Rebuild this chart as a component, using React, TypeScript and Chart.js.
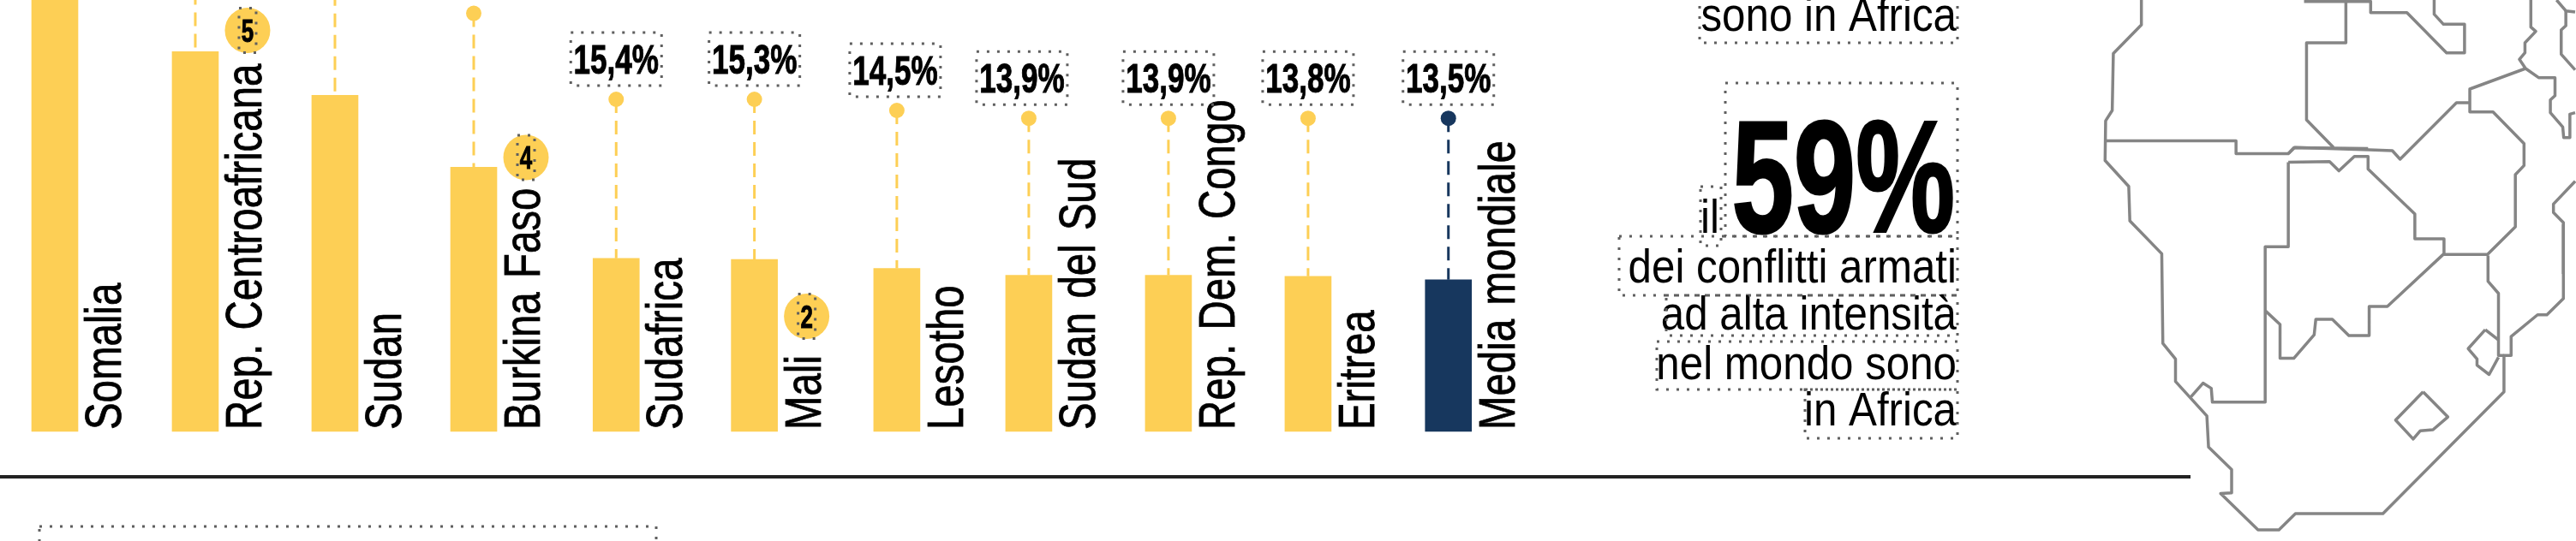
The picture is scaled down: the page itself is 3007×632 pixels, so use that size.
import React, { useEffect, useRef } from "react";
import { Chart, registerables } from "chart.js";

Chart.register(...registerables);

const categories = ["Somalia", "Rep. Centroafricana", "Sudan", "Burkina Faso", "Sudafrica", "Mali", "Lesotho", "Sudan del Sud", "Rep. Dem. Congo", "Eritrea", "Media mondiale"];
const values = [41.5, 33.8, 29.9, 23.5, 15.4, 15.3, 14.5, 13.9, 13.9, 13.8, 13.5];
const valueLabels = ["", "", "", "", "15,4%", "15,3%", "14,5%", "13,9%", "13,9%", "13,8%", "13,5%"];
const stemTops = [44, 43, 41, 37.2, 29.55, 29.55, 28.56, 27.86, 27.86, 27.86, 27.86];
const slots = [0, 1.006, 2.006, 3, 4.02, 5.01, 6.03, 6.975, 7.975, 8.975, 9.98];
const labelNudge = [0, 0, 0, 0, 0, 0, -2, -8, 0, 0, 0];
const ranks: [number, string, number][] = [[1, "5", 35.5], [3, "4", 184], [5, "2", 369.5]];
const YELLOW = "#fdcf55";
const NAVY = "#17375e";
const W = 3007, H = 632, BASE = 504, UNIT = 163, X0 = 64, PX_PER_VALUE = 13.13;

const body: [string, number, number, number, number, number, number][] = [
  ["sono in Africa", 2284, 36, 1984, -40, 2285, 50],
  ["il", 2007, 272, 1985, 218, 2009, 287],
  ["dei conflitti armati", 2284, 330, 1890, 276, 2285, 345],
  ["ad alta intensità", 2284, 385, 1945, 345, 2285, 392],
  ["nel mondo sono", 2284, 443, 1934, 399, 2285, 455],
  ["in Africa", 2284, 497, 2107, 455, 2285, 512],
];

// traced in the coordinates of two enlarged crops of the map
const mapLower: [number, number][][] = [
  [[778,0],[778,72],[727,155],[725,320],[713,350],[712,465],[755,540],[757,640],[815,735],[817,995],[840,1040],[840,1105],[897,1205],[900,1295],[942,1360],[942,1428],[922,1430],[990,1535],[1028,1535],[1058,1488],[1217,1488],[1437,1135],[1437,1030],[1450,1030],[1450,975],[1498,912],[1515,912],[1545,865],[1545,650]],
  [[712,408],[950,408],[950,445],[1045,445],[1055,428],[1190,430]],
  [[1045,470],[1120,468],[1137,495],[1165,453],[1190,453],[1190,490],[1275,620],[1275,692],[1328,692],[1328,735],[1225,888],[1192,888],[1192,972],[1155,972],[1125,925],[1095,925],[1092,970],[1055,1038],[1030,1038],[1030,940],[1003,900]],
  [[1045,470],[1045,715],[1003,715],[1003,1165],[907,1165],[905,1125],[890,1110],[868,1150]],
  [[1408,740],[1408,815],[1427,850],[1427,1030],[1437,1030]],
  [[1403,955],[1372,1010],[1388,1040],[1388,1058],[1410,1085],[1427,1035]],
  [[1403,955],[1427,985]],
  [[1290,1135],[1335,1208],[1308,1245],[1285,1248],[1272,1272],[1240,1217],[1290,1135]],
];
const mapUpper: [number, number][][] = [
  [[690,5],[825,5],[825,150],[698,150],[698,420],[785,517]],
  [[825,5],[905,5],[905,44],[1022,44],[1150,185],[1208,185],[1208,85],[1140,85],[1110,50],[1110,0]],
  [[1422,0],[1422,95],[1438,110],[1403,150],[1403,185],[1385,208],[1405,240],[1447,272],[1500,272],[1500,335],[1485,350],[1485,395],[1525,445],[1528,482],[1548,482],[1548,400],[1565,395]],
  [[1405,240],[1225,312],[1225,392],[1300,392],[1400,503],[1400,580],[1372,612],[1372,795],[1282,892],[1140,892]],
  [[1225,360],[1182,360],[1000,558],[975,528],[900,525],[660,517],[640,538]],
  [[1505,0],[1535,38],[1565,42]],
  [[1535,38],[1535,90],[1520,105],[1520,190],[1565,245]],
  [[1565,635],[1495,715],[1495,745],[1527,780],[1527,960]],
];

function dotted(ctx: CanvasRenderingContext2D, x0: number, y0: number, x1: number, y1: number) {
  ctx.save();
  ctx.strokeStyle = "#5f5f5f";
  ctx.lineWidth = 3;
  ctx.setLineDash([3, 9]);
  ctx.strokeRect(x0, y0, x1 - x0, y1 - y0);
  ctx.restore();
}

function narrowText(ctx: CanvasRenderingContext2D, text: string, x: number, y: number, font: string, sx: number, align: CanvasTextAlign, heavy = 0) {
  ctx.save();
  ctx.translate(x, y);
  ctx.scale(sx, 1);
  ctx.font = font;
  ctx.fillStyle = "#000";
  ctx.strokeStyle = "#000";
  ctx.textAlign = align;
  ctx.textBaseline = "alphabetic";
  ctx.fillText(text, 0, 0);
  if (heavy) {
    ctx.lineWidth = heavy;
    ctx.strokeText(text, 0, 0);
  }
  ctx.restore();
}

function polyline(ctx: CanvasRenderingContext2D, line: [number, number][], x0: number, sx: number, sy: number) {
  ctx.beginPath();
  line.forEach(([zx, zy], k) => {
    const px = x0 + zx / sx, py = zy / sy;
    if (k) ctx.lineTo(px, py); else ctx.moveTo(px, py);
  });
  ctx.stroke();
}

const decorations = {
  id: "decorations",
  beforeDatasetsDraw(chart: any) {
    const ctx: CanvasRenderingContext2D = chart.ctx;
    const xs = chart.scales.x, ys = chart.scales.y;
    ctx.save();
    slots.forEach((slot, i) => {
      const colour = i === 10 ? NAVY : YELLOW;
      const x = xs.getPixelForValue(slot);
      ctx.strokeStyle = colour;
      ctx.lineWidth = 3;
      ctx.setLineDash([16, 9]);
      ctx.beginPath();
      ctx.moveTo(x, ys.getPixelForValue(stemTops[i]));
      ctx.lineTo(x, ys.getPixelForValue(values[i]));
      ctx.stroke();
      ctx.setLineDash([]);
      ctx.fillStyle = colour;
      ctx.beginPath();
      ctx.arc(x, ys.getPixelForValue(stemTops[i]), 9, 0, Math.PI * 2);
      ctx.fill();
    });
    ctx.restore();
  },
  afterDatasetsDraw(chart: any) {
    const ctx: CanvasRenderingContext2D = chart.ctx;
    const xs = chart.scales.x, ys = chart.scales.y;
    // category labels, rotated, to the right of each bar
    slots.forEach((slot, i) => {
      ctx.save();
      ctx.translate(xs.getPixelForValue(slot) + 77, BASE - 2);
      ctx.rotate(-Math.PI / 2);
      ctx.scale(0.79, 1);
      ctx.font = "60px 'Liberation Sans'";
      (ctx as any).wordSpacing = "4px";
      ctx.fillStyle = "#000";
      ctx.textBaseline = "alphabetic";
      ctx.fillText(categories[i], 0, 0);
      ctx.strokeStyle = "#000";
      ctx.lineWidth = 0.8;
      ctx.strokeText(categories[i], 0, 0);
      ctx.restore();
    });
    // value labels
    slots.forEach((slot, i) => {
      if (!valueLabels[i]) return;
      const x = xs.getPixelForValue(slot) + labelNudge[i];
      const top = ys.getPixelForValue(stemTops[i]);
      narrowText(ctx, valueLabels[i], x, top - 30, "bold 48px 'Liberation Sans'", 0.73, "center", 1);
      dotted(ctx, x - 53, top - 78, x + 53, top - 16);
    });
    // rank badges
    ranks.forEach(([i, r, cy]) => {
      const cx = xs.getPixelForValue(slots[i]) + 61;
      ctx.fillStyle = YELLOW;
      ctx.beginPath();
      ctx.arc(cx, cy, 26.5, 0, Math.PI * 2);
      ctx.fill();
      narrowText(ctx, r, cx, cy + 13, "bold 36px 'Liberation Sans'", 0.72, "center", 1);
      dotted(ctx, cx - 10, cy - 26, cx + 10, cy + 26);
    });
    // baseline rule
    ctx.fillStyle = "#222";
    ctx.fillRect(0, 555, 2557, 4);
    // right-hand text
    narrowText(ctx, "59%", 2282, 271, "bold 186px 'Liberation Sans'", 0.7, "right", 3);
    dotted(ctx, 2014, 97, 2285, 276);
    body.forEach(([t, x, y, bx0, by0, bx1, by1]) => {
      narrowText(ctx, t, x, y, "56px 'Liberation Sans'", 0.88, "right");
      dotted(ctx, bx0, by0, bx1, by1);
    });
    dotted(ctx, 46, 615, 766, 660);
    // map
    ctx.save();
    ctx.strokeStyle = "#858585";
    ctx.lineWidth = 3.5;
    ctx.lineJoin = "round";
    mapLower.forEach((line) => polyline(ctx, line, 2000, 1.557, 2.48));
    mapUpper.forEach((line) => polyline(ctx, line, 2440, 2.765, 3));
    ctx.restore();
  },
};

export default function App() {
  const ref = useRef<HTMLCanvasElement>(null);
  useEffect(() => {
    document.body.style.margin = "0";
    const chart = new Chart(ref.current!, {
      type: "bar",
      data: {
        datasets: [{
          data: slots.map((x, i) => ({ x, y: values[i] })),
          backgroundColor: values.map((_, i) => (i === 10 ? NAVY : YELLOW)),
          barThickness: 54,
        }],
      },
      options: {
        animation: false,
        responsive: false,
        layout: { padding: 0 },
        plugins: { legend: { display: false }, tooltip: { enabled: false } },
        scales: {
          x: { type: "linear", display: false, min: -X0 / UNIT, max: (W - X0) / UNIT, offset: false },
          y: { display: false, min: (BASE - H) / PX_PER_VALUE, max: BASE / PX_PER_VALUE },
        },
      },
      plugins: [decorations],
    } as any);
    return () => chart.destroy();
  }, []);
  return <canvas ref={ref} width={W} height={H} style={{ display: "block" }} />;
}
